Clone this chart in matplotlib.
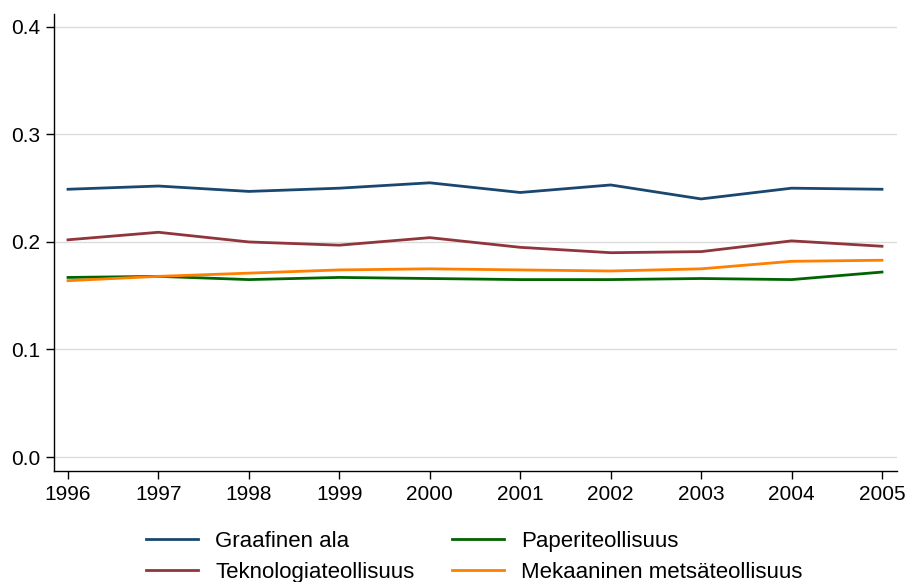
import numpy as np
import matplotlib
matplotlib.use("Agg")
import matplotlib.pyplot as plt
from matplotlib.ticker import FormatStrFormatter

plt.rcParams["font.family"] = ["Liberation Sans", "DejaVu Sans"]

# ------------------------------------------------------------------ #
#  Data
# ------------------------------------------------------------------ #

years = [1996, 1997, 1998, 1999, 2000, 2001, 2002, 2003, 2004, 2005]

graafinen = [0.249, 0.252, 0.247, 0.250, 0.255, 0.246, 0.253, 0.240, 0.250, 0.249]
teknologia = [0.202, 0.209, 0.200, 0.197, 0.204, 0.195, 0.190, 0.191, 0.201, 0.196]
paperi = [0.167, 0.168, 0.165, 0.167, 0.166, 0.165, 0.165, 0.166, 0.165, 0.172]
mekaaninen = [0.164, 0.168, 0.171, 0.174, 0.175, 0.174, 0.173, 0.175, 0.182, 0.183]

series = [
    ("Graafinen ala", graafinen, "#1a476f"),
    ("Teknologiateollisuus", teknologia, "#90353b"),
    ("Paperiteollisuus", paperi, "#006400"),
    ("Mekaaninen metsäteollisuus", mekaaninen, "#ff7f00"),
]

y_ticks = [0.0, 0.1, 0.2, 0.3, 0.4]

# ------------------------------------------------------------------ #
#  Plot
# ------------------------------------------------------------------ #

fig = plt.figure(figsize=(9.09, 5.82), dpi=100)
ax = fig.add_axes([0.0594, 0.1907, 0.9274, 0.7853])

for label, vals, color in series:
    ax.plot(years, vals, color=color, linewidth=2.0, label=label)

ax.set_xlim(1995.845, 2005.166)
ax.set_ylim(-0.013, 0.412)
ax.set_xticks(years)
ax.set_yticks(y_ticks)
ax.yaxis.set_major_formatter(FormatStrFormatter("%.1f"))
ax.grid(True, axis="y", color="#dcdcdc", linewidth=1.0)
ax.set_axisbelow(True)

for side in ("top", "right"):
    ax.spines[side].set_visible(False)
for side in ("left", "bottom"):
    ax.spines[side].set_linewidth(1.0)
    ax.spines[side].set_color("black")

ax.tick_params(axis="both", labelsize=15, length=6, width=1.0, pad=4)

handles, labels = ax.get_legend_handles_labels()
fig.legend(handles, labels, loc="center", bbox_to_anchor=(0.522, 0.0438),
           ncol=2, frameon=False, fontsize=16, handlelength=2.34,
           columnspacing=1.7, labelspacing=0.45, handletextpad=0.77)

fig.savefig("out.png", dpi=100)
